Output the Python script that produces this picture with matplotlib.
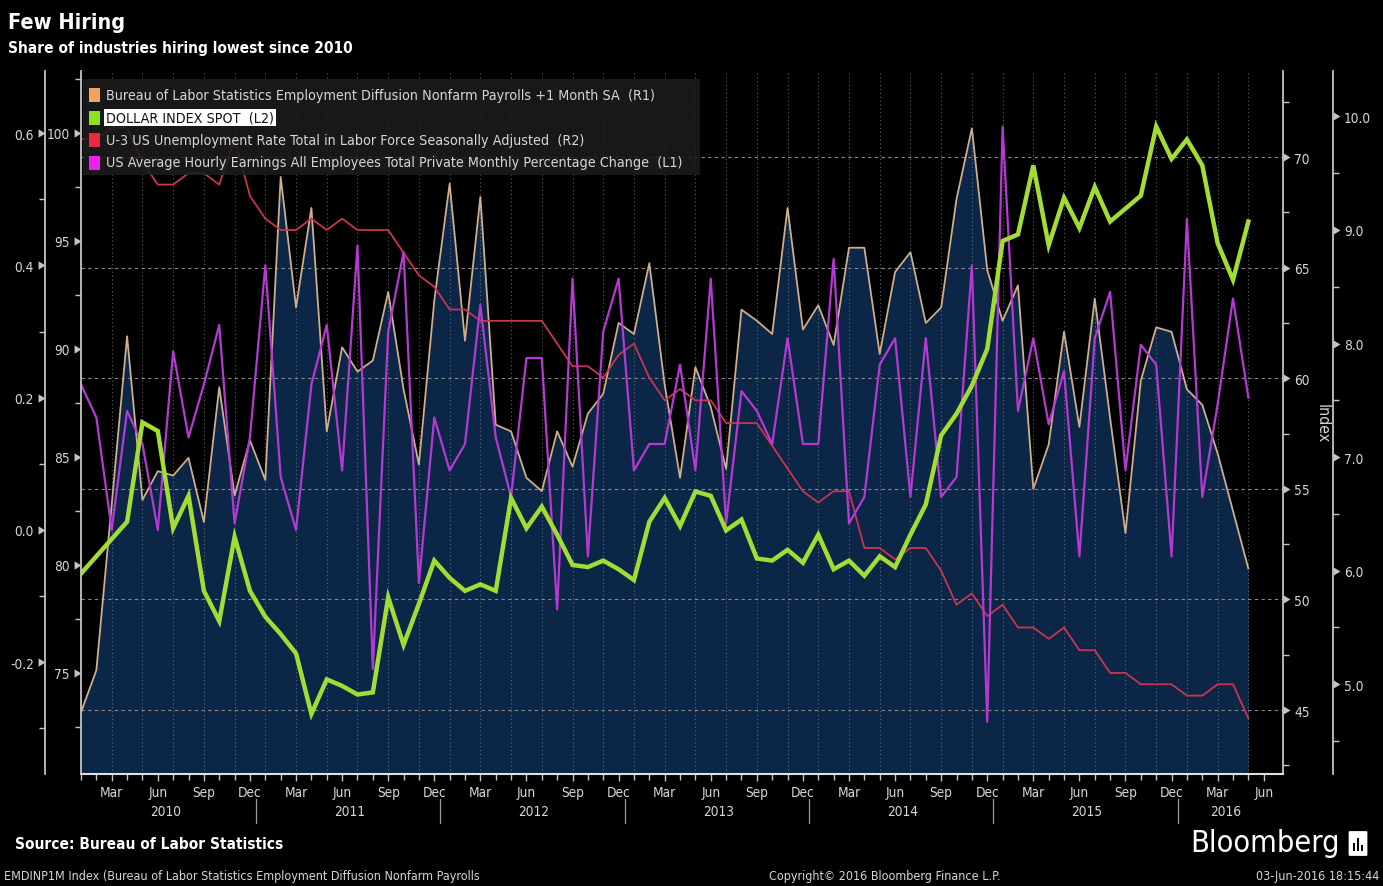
import numpy as np
import pandas as pd
import matplotlib
matplotlib.use('Agg')
import matplotlib.pyplot as plt
import matplotlib.transforms as mtransforms
from matplotlib import font_manager
from matplotlib.patches import Rectangle, FancyBboxPatch
from matplotlib.path import Path

# ---- data (monthly, Jan 2010 .. May 2016) ----
months = pd.date_range('2010-01-01', '2016-05-01', freq='MS')
axis_months = pd.date_range('2010-01-01', '2016-06-01', freq='MS')

diffusion = [44.9, 46.8, 54.3, 61.9, 54.5, 55.8, 55.6, 56.4, 53.5, 59.6, 54.7, 57.2,
             55.4, 69.1, 63.2, 67.7, 57.6, 61.4, 60.3, 60.8, 63.9, 59.5, 56.1, 63.5,
             68.8, 61.7, 68.2, 57.9, 57.6, 55.5, 54.9, 57.6, 56.0, 58.4, 59.3, 62.5,
             62.0, 65.2, 59.7, 55.5, 60.5, 58.7, 55.9, 63.1, 62.6, 62.0, 67.7, 62.2,
             63.3, 61.5, 65.9, 65.9, 61.1, 64.8, 65.7, 62.5, 63.2, 68.1, 71.3, 64.9,
             62.6, 64.2, 55.0, 57.0, 62.1, 57.8, 63.6, 58.2, 53.0, 59.9, 62.3, 62.1,
             59.5, 58.8, 56.6, 54.0, 51.4]

dollar = [79.6, 80.4, 81.2, 82.0, 86.6, 86.2, 81.7, 83.2, 78.8, 77.4, 81.3, 78.8,
          77.6, 76.8, 75.9, 73.1, 74.7, 74.4, 74.0, 74.1, 78.5, 76.3, 78.2, 80.2,
          79.4, 78.8, 79.1, 78.8, 83.1, 81.7, 82.7, 81.4, 80.0, 79.9, 80.2, 79.8,
          79.3, 82.0, 83.1, 81.8, 83.4, 83.2, 81.6, 82.1, 80.3, 80.2, 80.7, 80.1,
          81.4, 79.8, 80.2, 79.5, 80.4, 79.9, 81.4, 82.8, 86.0, 87.0, 88.3, 90.0,
          95.0, 95.3, 98.5, 94.8, 97.0, 95.6, 97.5, 95.9, 96.5, 97.1, 100.3, 98.8,
          99.7, 98.5, 94.9, 93.2, 95.9]

unemployment = [9.8, 9.8, 9.9, 9.9, 9.6, 9.4, 9.4, 9.5, 9.5, 9.4, 9.8, 9.3,
                9.1, 9.0, 9.0, 9.1, 9.0, 9.1, 9.0, 9.0, 9.0, 8.8, 8.6, 8.5,
                8.3, 8.3, 8.2, 8.2, 8.2, 8.2, 8.2, 8.0, 7.8, 7.8, 7.7, 7.9,
                8.0, 7.7, 7.5, 7.6, 7.5, 7.5, 7.3, 7.3, 7.3, 7.1, 6.9, 6.7,
                6.6, 6.7, 6.7, 6.2, 6.2, 6.1, 6.2, 6.2, 6.0, 5.7, 5.8, 5.6,
                5.7, 5.5, 5.5, 5.4, 5.5, 5.3, 5.3, 5.1, 5.1, 5.0, 5.0, 5.0,
                4.9, 4.9, 5.0, 5.0, 4.7]

earnings = [0.22, 0.17, 0.00, 0.18, 0.13, 0.00, 0.27, 0.14, 0.22, 0.31, 0.01, 0.14,
            0.40, 0.08, 0.00, 0.22, 0.31, 0.09, 0.43, -0.21, 0.30, 0.42, -0.08, 0.17,
            0.09, 0.13, 0.34, 0.14, 0.05, 0.26, 0.26, -0.12, 0.38, -0.04, 0.30, 0.38,
            0.09, 0.13, 0.13, 0.25, 0.09, 0.38, 0.01, 0.21, 0.18, 0.13, 0.29, 0.13,
            0.13, 0.41, 0.01, 0.05, 0.25, 0.29, 0.05, 0.29, 0.05, 0.08, 0.40, -0.29,
            0.61, 0.18, 0.29, 0.16, 0.24, -0.04, 0.29, 0.36, 0.09, 0.28, 0.25, -0.04,
            0.47, 0.05, 0.19, 0.35, 0.20]

legend_labels = ['Bureau of Labor Statistics Employment Diffusion Nonfarm Payrolls +1 Month SA  (R1)',
                 'DOLLAR INDEX SPOT  (L2)',
                 'U-3 US Unemployment Rate Total in Labor Force Seasonally Adjusted  (R2)',
                 'US Average Hourly Earnings All Employees Total Private Monthly Percentage Change  (L1)']
legend_colors = ['#f2a35e', '#8ee21c', '#ea2a3c', '#f020f0']

# ---- fonts ----
names = {f.name for f in font_manager.fontManager.ttflist}
if 'Liberation Sans Narrow' in names:
    plt.rcParams['font.family'] = ['Liberation Sans Narrow', 'DejaVu Sans']
    FS = 1.0
else:
    plt.rcParams['font.family'] = ['DejaVu Sans']
    plt.rcParams['font.stretch'] = 'condensed'
    FS = 0.82

W, H = 1383, 887
L, R, T, B = 81, 1283, 72, 775
AXC = '#c4c4c4'
TXT = '#d6d6d6'
NAVY = '#0b2647'


def fx(px):
    return px / W


def fy(py):
    return 1 - py / H


fig = plt.figure(figsize=(W / 100, H / 100), dpi=100, facecolor='black')
ax = fig.add_axes([fx(L), fy(B), (R - L) / W, (B - T) / H])

axR2 = ax.twinx()
axL1 = ax.twinx()
axL2 = ax.twinx()

x = np.arange(len(months))
xmax = (R - L) / 15.36

TRI_L = Path([(0, 0), (-1, 0.6), (-1, -0.6), (0, 0)])
TRI_R = Path([(0, 0.6), (1, 0), (0, -0.6), (0, 0.6)])


def setup_y(a, side, pos, lim, ticks, minor, fmt):
    for s in a.spines.values():
        s.set_visible(False)
    sp = a.spines[side]
    sp.set_visible(True)
    sp.set_position(('axes', pos))
    sp.set_color(AXC)
    sp.set_linewidth(1.3)
    if side == 'left':
        a.yaxis.tick_left()
    else:
        a.yaxis.tick_right()
    a.set_ylim(*lim)
    a.set_yticks(ticks)
    a.set_yticklabels([fmt.format(t) for t in ticks])
    a.set_yticks(minor, minor=True)
    a.tick_params(axis='y', which='major', length=7, width=1, pad=1,
                  colors=TXT, labelsize=12 * FS)
    a.tick_params(axis='y', which='minor', length=4, width=1, color=AXC)
    for tk in a.yaxis.get_major_ticks():
        ln = tk.tick1line if side == 'left' else tk.tick2line
        ln.set_marker(TRI_L if side == 'left' else TRI_R)
        ln.set_markersize(10)
        ln.set_markerfacecolor(AXC)
        ln.set_markeredgecolor(AXC)
        ln.set_markeredgewidth(0)


# host axes: diffusion index (R1) with filled area
ax.set_facecolor('black')
ax.set_xlim(0, xmax)
ylo = 42.11
ax.fill_between(x, diffusion, ylo, color=NAVY, lw=0, zorder=0.8)
ax.plot(x, diffusion, color='#cfae8c', lw=1.3, zorder=3)
setup_y(ax, 'right', 1.0, (ylo, 73.89), list(range(45, 71, 5)),
        list(np.arange(42.5, 73, 5)), '{:d}')
ax.spines['bottom'].set_visible(True)
ax.spines['bottom'].set_color('#e0e0e0')
ax.spines['bottom'].set_linewidth(1.5)
ax.grid(axis='y', color='#8a8a8a', ls=(0, (3, 3)), lw=0.8)
for m in range(0, len(axis_months), 2):
    ax.axvline(m, color='#8a8a8a', ls=(0, (1, 2.5)), lw=0.8, alpha=0.7, zorder=1.6)
ax.set_ylabel('Index', rotation=270, color=TXT, fontsize=14 * FS, va='center')
ax.yaxis.set_label_coords((1322 - L) / (R - L), 0.5)

# x axis: month ticks and year labels
xi = np.arange(len(axis_months))
major = [i for i in xi if axis_months[i].month in (3, 6, 9, 12)]
ax.set_xticks(major)
ax.set_xticklabels([axis_months[i].strftime('%b') for i in major])
ax.set_xticks(xi, minor=True)
ax.tick_params(axis='x', which='major', length=5, width=1, color=AXC,
               labelcolor=TXT, labelsize=12 * FS, pad=3)
ax.tick_params(axis='x', which='minor', length=4, width=1, color=AXC)
blend = mtransforms.blended_transform_factory(ax.transData, ax.transAxes)
for yr in sorted(set(axis_months.year)):
    idx = [i for i in xi if axis_months[i].year == yr]
    ax.text(np.mean(idx), -0.053, str(yr), transform=blend, ha='center', va='center',
            color=TXT, fontsize=12 * FS)
    if yr != axis_months[-1].year:
        s = idx[-1] + 0.4
        ax.plot([s, s], [-0.035, -0.07], transform=blend, clip_on=False,
                color='#9a9a9a', lw=0.9)

# R2: unemployment
axR2.plot(x, unemployment, color='#c9354f', lw=1.3)
setup_y(axR2, 'right', (1333 - L) / (R - L), (4.21, 10.40), [5, 6, 7, 8, 9, 10],
        list(np.arange(4.5, 10.1, 1.0)), '{:.1f}')

# L1: hourly earnings
axL1.plot(x, earnings, color='#b43ad2', lw=1.6)
setup_y(axL1, 'left', (45 - L) / (R - L), (-0.369, 0.694), [-0.2, 0.0, 0.2, 0.4, 0.6],
        [-0.3, -0.1, 0.1, 0.3, 0.5], '{:.1f}')

# L2: dollar index
axL2.plot(x, dollar, color='#a3dc34', lw=3.2, solid_joinstyle='miter')
setup_y(axL2, 'left', 0.0, (70.32, 102.87), [75, 80, 85, 90, 95, 100],
        list(np.arange(72.5, 103, 5)), '{:d}')

# legend box
fig.add_artist(Rectangle((fx(83), fy(176)), fx(700) - fx(83), fy(80) - fy(176),
                         transform=fig.transFigure, facecolor='#1c1c1c', alpha=0.88,
                         edgecolor='none', zorder=5))
for k, (lab, col) in enumerate(zip(legend_labels, legend_colors)):
    yc = 96 + 22.5 * k
    fig.add_artist(Rectangle((fx(89), fy(yc + 7)), fx(100) - fx(89), fy(yc - 7) - fy(yc + 7),
                             transform=fig.transFigure, facecolor=col, edgecolor='none',
                             zorder=6))
    if k == 1:
        fig.text(fx(106), fy(yc), lab, color='#111111', fontsize=12.5 * FS, va='center',
                 zorder=7, bbox=dict(facecolor='white', edgecolor='none', pad=1.2))
    else:
        fig.text(fx(106), fy(yc), lab, color=TXT, fontsize=12.5 * FS, va='center', zorder=7)

# titles and footer
fig.text(fx(8), fy(23), 'Few Hiring', color='white', fontsize=19 * FS,
         fontweight='bold', va='center')
fig.text(fx(8), fy(49), 'Share of industries hiring lowest since 2010', color='white',
         fontsize=13.5 * FS, fontweight='bold', va='center')
fig.text(fx(15), fy(845), 'Source: Bureau of Labor Statistics', color='white',
         fontsize=13.5 * FS, fontweight='bold', va='center')
fig.text(fx(4), fy(877), 'EMDINP1M Index (Bureau of Labor Statistics Employment Diffusion Nonfarm Payrolls',
         color=TXT, fontsize=11 * FS, va='center')
fig.text(fx(885), fy(877), 'Copyright\u00a9 2016 Bloomberg Finance L.P.', color=TXT,
         fontsize=11 * FS, va='center', ha='center')
fig.text(fx(1379), fy(877), '03-Jun-2016 18:15:44', color=TXT, fontsize=11 * FS,
         va='center', ha='right')
fig.text(fx(1340), fy(844), 'Bloomberg', color='white', fontsize=22, va='center',
         ha='right', family='DejaVu Sans', fontstretch='condensed')
fig.add_artist(FancyBboxPatch((fx(1350), fy(856)), fx(1366) - fx(1350), fy(833) - fy(856),
                              boxstyle='round,pad=0.001', transform=fig.transFigure,
                              facecolor='white', edgecolor='none', zorder=5))
for bx, bh in zip([1354, 1358, 1362], [8, 13, 6]):
    fig.add_artist(Rectangle((fx(bx - 1), fy(852)), fx(2), fy(852 - bh) - fy(852),
                             transform=fig.transFigure, facecolor='black',
                             edgecolor='none', zorder=6))

fig.savefig('out.png', dpi=100, facecolor='black')
